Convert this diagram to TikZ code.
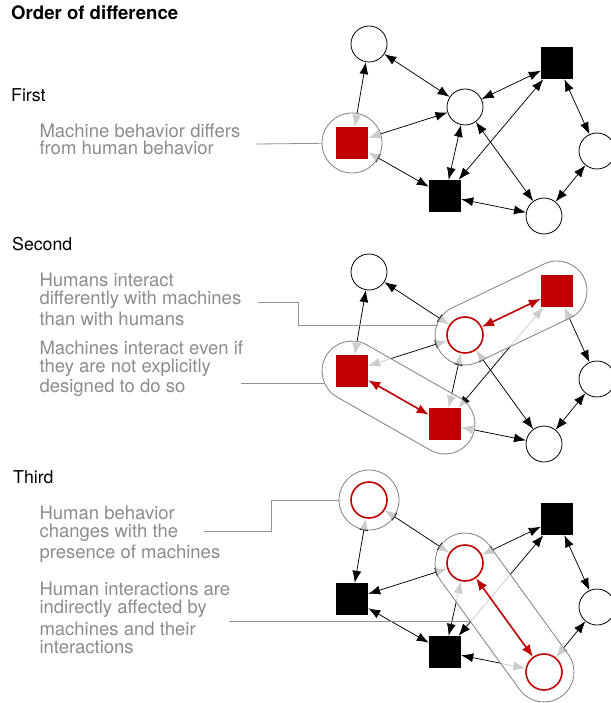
\documentclass[tikz,border=0pt]{standalone}
\usepackage{fontspec}
\setmainfont{TeX Gyre Heros}
\usetikzlibrary{arrows.meta,calc,shapes.misc}
\definecolor{hired}{RGB}{192,0,0}
\definecolor{notegray}{RGB}{140,140,140}
\pgfdeclarelayer{edgelayer}
\pgfdeclarelayer{washlayer}
\pgfsetlayers{edgelayer,washlayer,main}

\tikzset{
  human/.style={circle, draw=black, line width=0.8pt, fill=white, minimum size=36pt, inner sep=0pt},
  redhuman/.style={human, draw=hired, line width=1.6pt},
  machine/.style={rectangle, fill=black, minimum size=32pt, inner sep=0pt},
  redmachine/.style={machine, fill=hired},
  link/.style={<->, >={Latex[length=12pt,width=9pt]}, line width=0.75pt},
  redlink/.style={<->, >={Latex[length=12pt,width=9.5pt]}, draw=hired, line width=1.6pt},
  wash/.style={fill=white, fill opacity=0.8, draw=gray, line width=0.8pt, inner sep=0pt},
  pill/.style={wash, rounded rectangle, minimum height=60pt},
  ring/.style={wash, circle, minimum size=60pt},
  leader/.style={draw=gray!85, line width=0.8pt},
  note/.style={anchor=base west, align=left, inner sep=0pt, text=notegray, font=\fontsize{18.5}{18}\selectfont},
  heading/.style={anchor=base west, inner sep=0pt, font=\fontsize{17.7}{20}\selectfont},
}

% highlight around two nodes: name, from, to
\newcommand\hilite[3]{%
  \path let \p1=($(#3)-(#2)$), \n1={veclen(\x1,\y1)}, \n2={atan2(\y1,\x1)} in
    node[pill, minimum width=\n1+60pt, rotate=\n2] (#1) at ($(#2)!0.5!(#3)$) {};}

\begin{document}
\begin{tikzpicture}[x=1pt,y=-1pt]
\useasboundingbox (0,0) rectangle (610,703);

\node[heading, font=\bfseries\fontsize{18.6}{20}\selectfont] (title) at (11,20) {Order of difference};

% first order
\node[heading] (first) at (11,101.7) {First};
\node[note] (t1) at (39.3,155) {Machine behavior differs\\[-0.7pt]from human behavior};

\node[human] (a1) at (369,44) {};
\node[human] (b1) at (465,107) {};
\node[machine] (c1) at (557,63) {};
\node[human] (d1) at (597,151) {};
\node[human] (e1) at (544,216) {};
\node[machine] (f1) at (445,196) {};
\node[redmachine] (g1) at (352,143) {};

\begin{pgfonlayer}{edgelayer}
\foreach \u/\v in {a/g,a/b,g/b,g/f,b/c,b/f,b/e,c/f,c/d,d/e,f/e}
  \draw[link] (\u1) -- (\v1);
\end{pgfonlayer}
\begin{pgfonlayer}{washlayer}
\node[ring] (h1) at (g1) {};
\end{pgfonlayer}
\coordinate (l1) at (256,144);
\draw[leader] (l1) -- (h1);

% second order
\node[heading] (second) at (12,250) {Second};
\node[note] (t2a) at (39.3,325) {Humans interact\\differently with machines\\[3pt]than with humans};
\node[note] (t2b) at (39.3,392) {Machines interact even if\\they are not explicitly\\[2pt]designed to do so};

\begin{scope}[yshift=-228pt]
\node[human] (a2) at (369,44) {};
\node[redhuman] (b2) at (465,107) {};
\node[redmachine] (c2) at (557,63) {};
\node[human] (d2) at (597,151) {};
\node[human] (e2) at (544,216) {};
\node[redmachine] (f2) at (445,196) {};
\node[redmachine] (g2) at (352,143) {};
\end{scope}

\begin{pgfonlayer}{edgelayer}
\foreach \u/\v in {a/g,a/b,g/b,b/f,b/e,c/f,c/d,d/e,f/e}
  \draw[link] (\u2) -- (\v2);
\end{pgfonlayer}
\begin{pgfonlayer}{washlayer}
\hilite{h2a}{b2}{c2}
\hilite{h2b}{g2}{f2}
\end{pgfonlayer}
\draw[redlink] (b2) -- (c2);
\draw[redlink] (g2) -- (f2);
\coordinate (l2a) at (258,302);
\coordinate (k2a) at (437.7,325);
\coordinate (l2b) at (241,383);
\coordinate (k2b) at (324,383);
\draw[leader] (l2a) -| (298,325) -- (k2a);
\draw[leader] (l2b) -- (k2b);

% third order
\node[heading] (third) at (13,483) {Third};
\node[note] (t3a) at (39.3,558.3) {Human behavior\\changes with the\\[3pt]presence of machines};
\node[note] (t3b) at (39.3,653.3) {Human interactions are\\indirectly affected by\\[4pt]machines and their\\interactions};

\begin{scope}[yshift=-456pt]
\node[redhuman] (a3) at (369,44) {};
\node[redhuman] (b3) at (465,107) {};
\node[machine] (c3) at (557,63) {};
\node[human] (d3) at (597,151) {};
\node[redhuman] (e3) at (544,216) {};
\node[machine] (f3) at (445,196) {};
\node[machine] (g3) at (352,143) {};
\end{scope}

\begin{pgfonlayer}{edgelayer}
\foreach \u/\v in {a/g,a/b,g/b,g/f,b/c,b/f,c/f,c/d,d/e,f/e}
  \draw[link] (\u3) -- (\v3);
\end{pgfonlayer}
\begin{pgfonlayer}{washlayer}
\node[ring] (h3a) at (a3) {};
\hilite{h3b}{b3}{e3}
\end{pgfonlayer}
\draw[redlink] (b3) -- (e3);
\coordinate (l3a) at (204,531);
\coordinate (l3b) at (229,621);
\coordinate (k3b) at (470,621);
\draw[leader] (l3a) -| (271,500) -- (h3a);
\draw[leader] (l3b) -- (k3b);
\end{tikzpicture}
\end{document}
